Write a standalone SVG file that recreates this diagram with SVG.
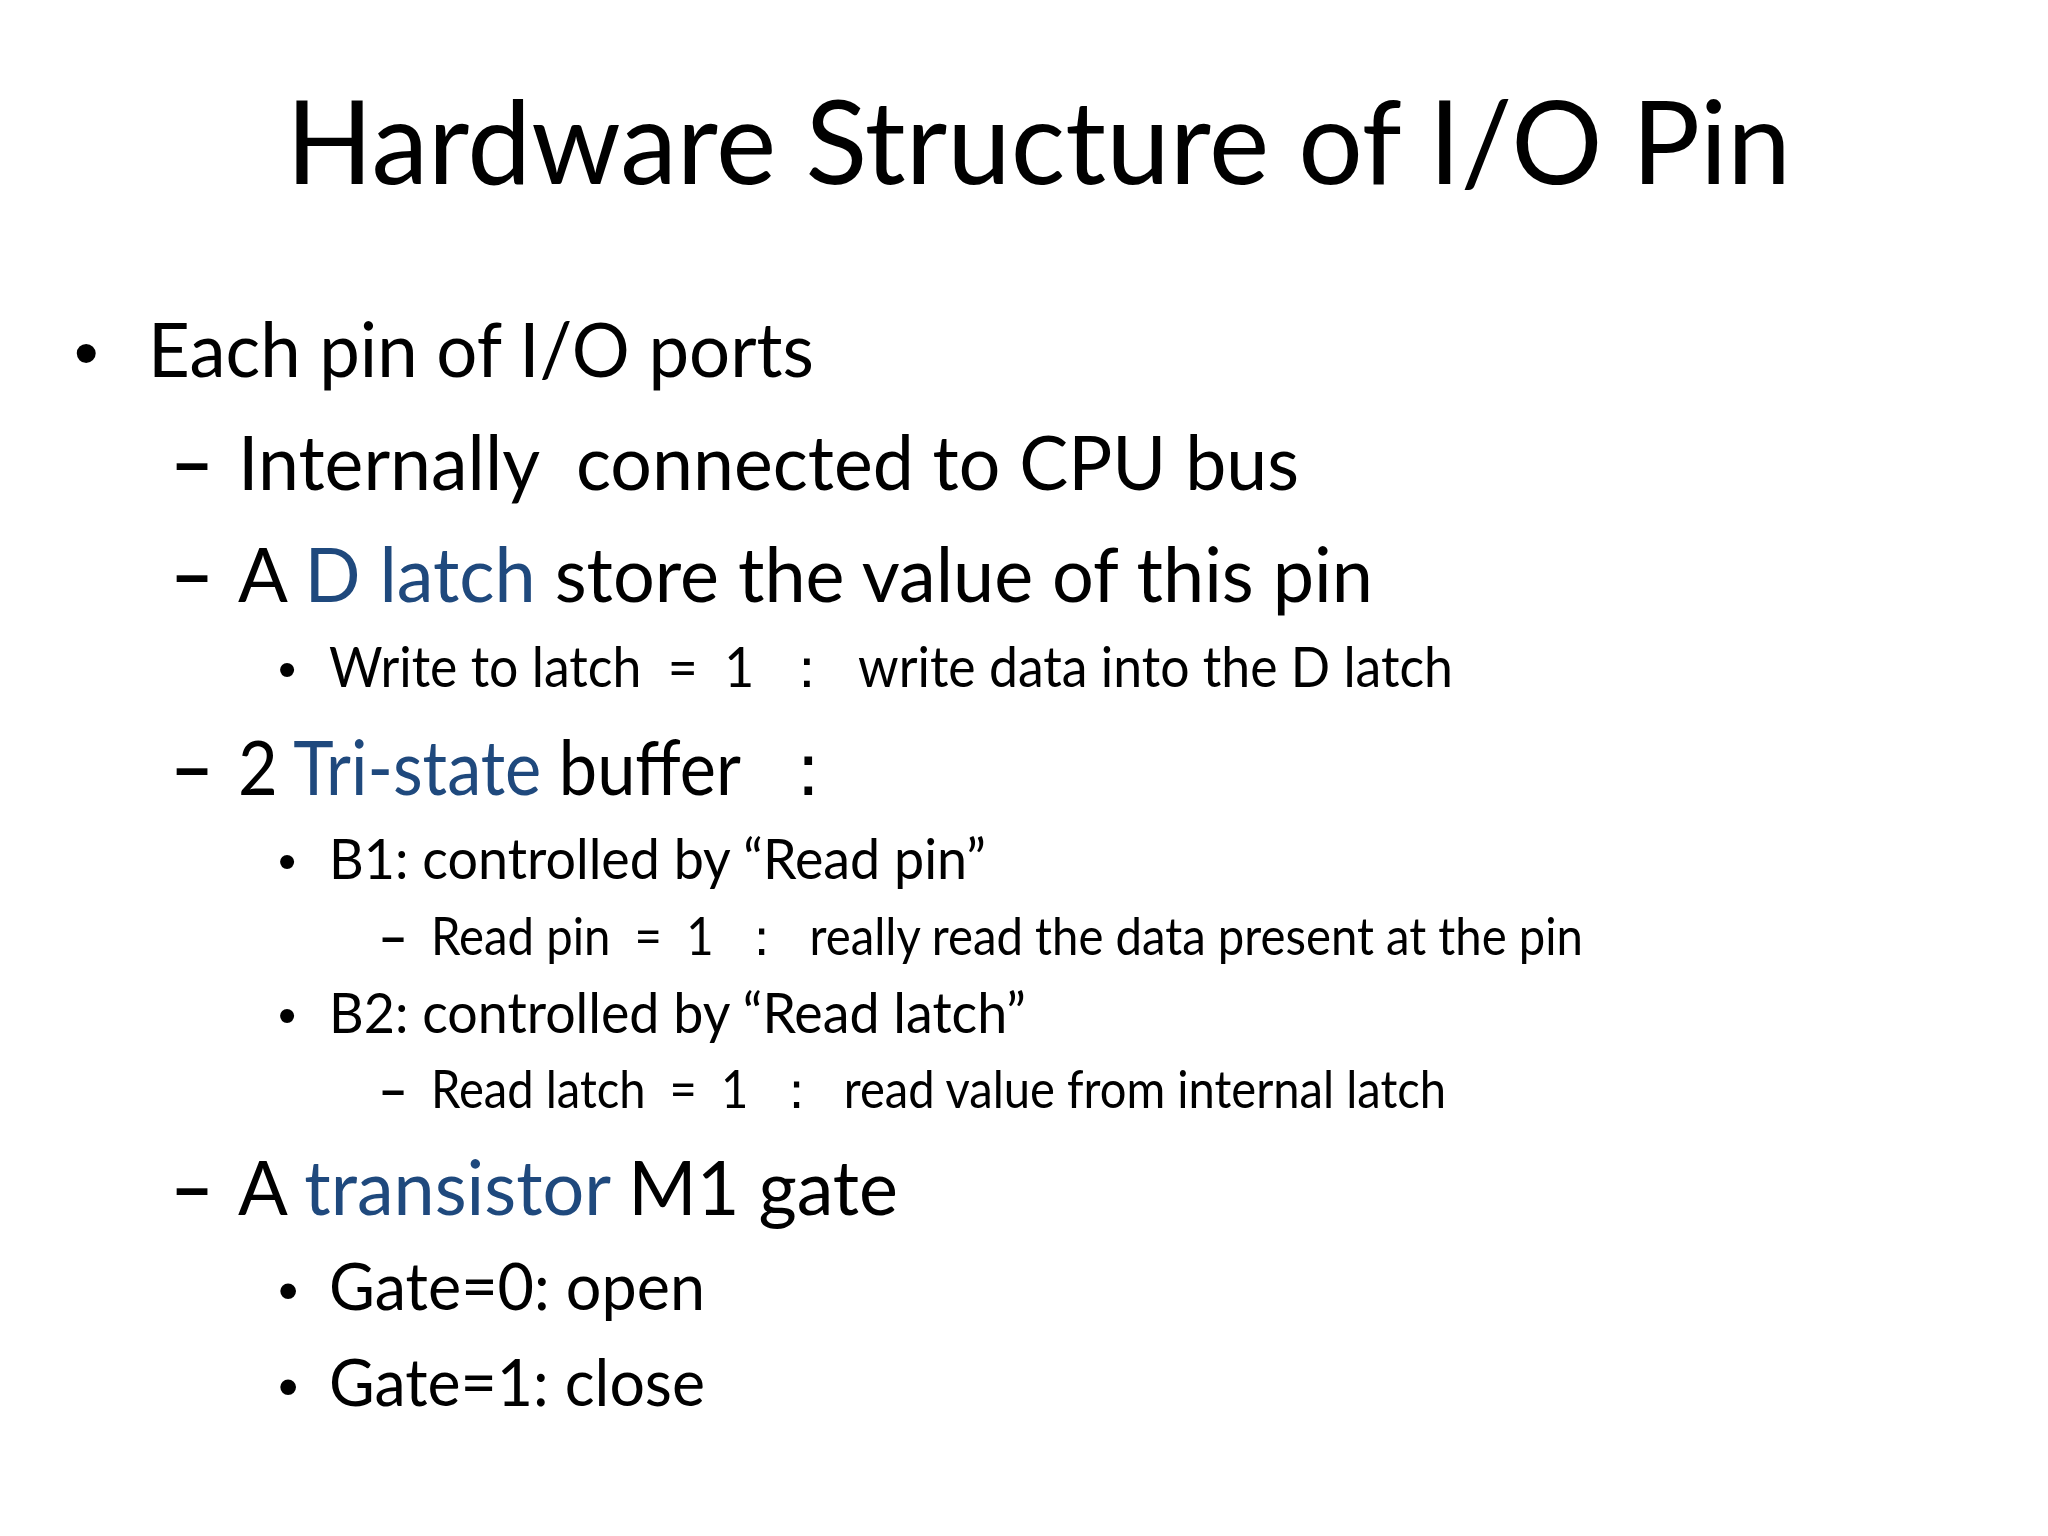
<svg xmlns="http://www.w3.org/2000/svg" width="2048" height="1536" viewBox="0 0 2048 1536">
<style>
text{font-family:Lato,"Liberation Sans",sans-serif;fill:#000;white-space:pre}
.b{fill:#1F497D}
.t{font-size:117px}
.l1{font-size:76px}
.l3s{font-size:56px}
.l3g{font-size:66px}
.l4{font-size:52px}
.bu{font-family:"Liberation Sans",sans-serif}
.d{font-weight:bold}
</style>
<rect width="2048" height="1536" fill="#fff"/>
<text class="t" x="286" y="184" textLength="1505" lengthAdjust="spacingAndGlyphs">Hardware Structure of I/O Pin</text>
<text class="l1 bu" x="74" y="377" style="font-size:70px">•</text>
<text class="l1" x="148" y="377" textLength="666" lengthAdjust="spacingAndGlyphs">Each pin of I/O ports</text>
<text class="l1 d" x="170" y="490">–</text>
<text class="l1" x="238" y="490" textLength="1061" lengthAdjust="spacingAndGlyphs">Internally  connected to CPU bus</text>
<text class="l1 d" x="170" y="602">–</text>
<text class="l1" x="238" y="602" textLength="1135" lengthAdjust="spacingAndGlyphs">A <tspan class="b">D latch</tspan> store the value of this pin</text>
<text class="l1 d" x="170" y="795">–</text>
<text class="l1" x="238" y="795" textLength="605" lengthAdjust="spacingAndGlyphs">2 <tspan class="b">Tri-state</tspan> buffer  ：</text>
<text class="l1 d" x="170" y="1215">–</text>
<text class="l1" x="238" y="1215" textLength="660" lengthAdjust="spacingAndGlyphs">A <tspan class="b">transistor</tspan> M1 gate</text>
<text class="l3s bu" x="278" y="687" style="font-size:52px">•</text>
<text class="l3s" x="329" y="687" textLength="1124" lengthAdjust="spacingAndGlyphs">Write to latch  =  1  ：  write data into the D latch</text>
<text class="l3s bu" x="278" y="879" style="font-size:52px">•</text>
<text class="l3s" x="329" y="879" textLength="657" lengthAdjust="spacingAndGlyphs">B1: controlled by “Read pin”</text>
<text class="l4 d" x="378" y="955">–</text>
<text class="l4" x="431" y="955" textLength="1152" lengthAdjust="spacingAndGlyphs">Read pin  =  1  ：  really read the data present at the pin</text>
<text class="l3s bu" x="278" y="1033" style="font-size:52px">•</text>
<text class="l3s" x="329" y="1033" textLength="697" lengthAdjust="spacingAndGlyphs">B2: controlled by “Read latch”</text>
<text class="l4 d" x="378" y="1108">–</text>
<text class="l4" x="431" y="1108" textLength="1015" lengthAdjust="spacingAndGlyphs">Read latch  =  1  ：  read value from internal latch</text>
<text class="l3g bu" x="278" y="1310" style="font-size:58px">•</text>
<text class="l3g" x="329" y="1310" textLength="376" lengthAdjust="spacingAndGlyphs">Gate=0: open</text>
<text class="l3g bu" x="278" y="1406" style="font-size:58px">•</text>
<text class="l3g" x="329" y="1406" textLength="376" lengthAdjust="spacingAndGlyphs">Gate=1: close</text>
</svg>
